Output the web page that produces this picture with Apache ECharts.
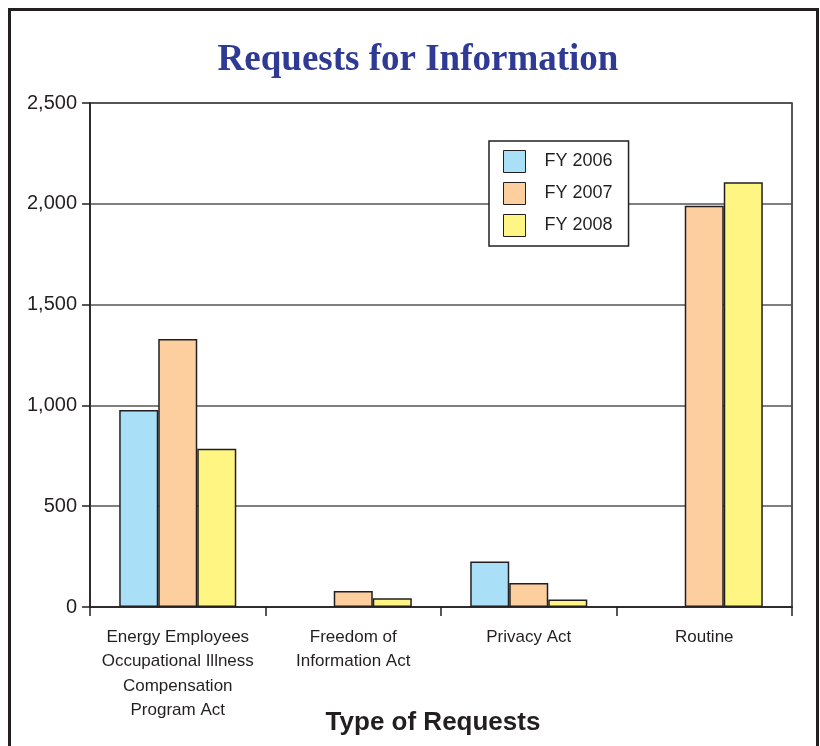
<!DOCTYPE html>
<html><head><meta charset="utf-8">
<script src="https://cdn.jsdelivr.net/npm/echarts@6/dist/echarts.min.js"></script>
<style>html,body{margin:0;padding:0;background:#fff}#c{width:820px;height:746px}</style>
</head><body><div id="c"></div>
<script>
const categories = ['Energy Employees\nOccupational Illness\nCompensation\nProgram Act', 'Freedom of\nInformation Act', 'Privacy Act', 'Routine'];
const fy2006 = [977, null, 226, null];
const fy2007 = [1329, 79, 119, 1990];
const fy2008 = [785, 43, 37, 2107];
const seriesNames = ['FY 2006', 'FY 2007', 'FY 2008'];
const colors = ['#AADFF8', '#FDCF9E', '#FFF582'];

const chart = echarts.init(document.getElementById('c'), null, {renderer: 'canvas'});
const mk = (name, data, color) => ({
  name, type: 'bar', data,
  barGap: '0%', barCategoryGap: '33.3%',
  itemStyle: {color, borderColor: '#231F20', borderWidth: 1.5},
  emphasis: {disabled: true}
});
chart.setOption({
  animation: false,
  title: {
    text: 'Requests for Information', left: 413, top: 37, textAlign: 'center',
    textStyle: {fontFamily: 'Liberation Serif', fontWeight: 'bold', fontSize: 37, color: '#2E3A94'}
  },
  legend: {
    orient: 'vertical', left: 489, top: 141,
    padding: [9, 16, 9, 14], itemGap: 9,
    itemWidth: 22, itemHeight: 22, icon: 'rect',
    backgroundColor: '#fff', borderColor: '#231F20', borderWidth: 1.5,
    textStyle: {fontFamily: 'Liberation Sans', fontSize: 18, color: '#231F20', padding: [0, 0, 0, 14]},
    itemStyle: {borderColor: '#231F20', borderWidth: 1},
    data: seriesNames
  },
  grid: {left: 90, right: 28, top: 103, bottom: 139, show: true, borderColor: '#231F20', borderWidth: 1.5,
    containLabel: false, outerBoundsMode: 'none'},
  xAxis: {
    type: 'category', data: categories,
    name: 'Type of Requests', nameLocation: 'middle', nameGap: 103, nameMoveOverlap: false,
    nameTextStyle: {fontFamily: 'Liberation Sans', fontWeight: 'bold', fontSize: 26, color: '#231F20', padding: [0, 16, 0, 0]},
    axisLine: {lineStyle: {color: '#231F20', width: 1.5}},
    axisTick: {show: true, length: 9, lineStyle: {color: '#231F20', width: 1.5}},
    axisLabel: {margin: 18, fontFamily: 'Liberation Sans', fontSize: 17, lineHeight: 24.5, color: '#231F20', interval: 0}
  },
  yAxis: {
    type: 'value', min: 0, max: 2500, interval: 500,
    axisLine: {show: true, lineStyle: {color: '#231F20', width: 1.5}},
    axisTick: {show: true, length: 8, lineStyle: {color: '#231F20', width: 1.5}},
    axisLabel: {margin: 13, fontFamily: 'Liberation Sans', fontSize: 20, color: '#231F20',
      formatter: v => v.toLocaleString('en-US')},
    splitLine: {lineStyle: {color: '#555', width: 1.5}}
  },
  graphic: [{
    type: 'rect', shape: {x: 9.5, y: 9.5, width: 808, height: 760},
    style: {fill: 'none', stroke: '#231F20', lineWidth: 3}, z: 100, silent: true
  }],
  series: [mk(seriesNames[0], fy2006, colors[0]), mk(seriesNames[1], fy2007, colors[1]), mk(seriesNames[2], fy2008, colors[2])]
});
</script></body></html>
